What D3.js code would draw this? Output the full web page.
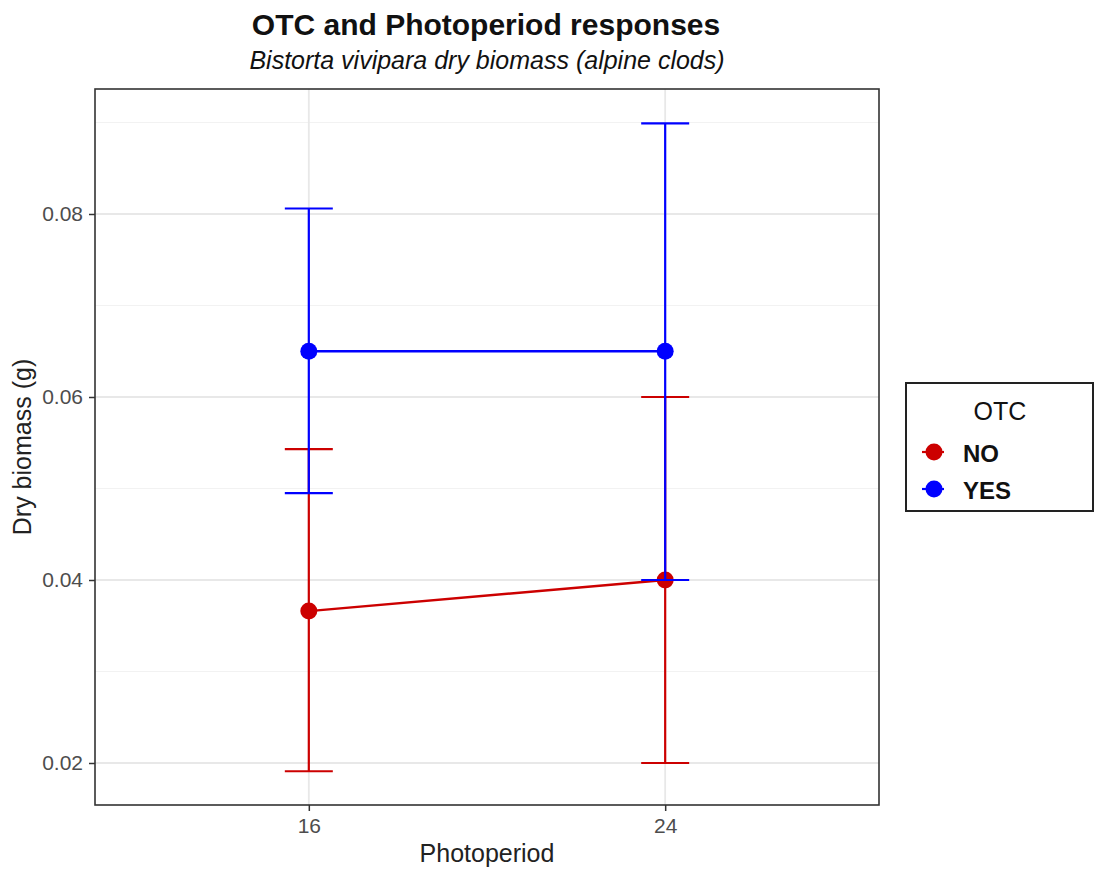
<!doctype html>
<meta charset="utf-8">
<title>OTC and Photoperiod responses</title>
<style>
body { margin: 0; background: #fff; }
svg { font-family: "Liberation Sans", Arial, sans-serif; }
</style>
<script src="https://cdn.jsdelivr.net/npm/d3@7"></script>
<body>
<script>
// photoperiod levels and OTC groups
var photoperiods = ["16", "24"];
var groups = ["NO", "YES"];
var colors = ["#cc0000", "#0000ff"];
// mean, lower, upper per group
var meanNO  = [0.0366, 0.0400];
var lowNO   = [0.0191, 0.0200];
var highNO  = [0.0543, 0.0600];
var meanYES = [0.0650, 0.0650];
var lowYES  = [0.0495, 0.0400];
var highYES = [0.0806, 0.0899];
var yTicks = [0.02, 0.04, 0.06, 0.08];
var yMinor = [0.03, 0.05, 0.07, 0.09];

var series = [
  {name: groups[0], color: colors[0], mean: meanNO, low: lowNO, high: highNO},
  {name: groups[1], color: colors[1], mean: meanYES, low: lowYES, high: highYES}
];

var W = 1094, H = 871;
var pLeft = 95, pRight = 879, pTop = 89, pBottom = 805;

var svg = d3.select("body").append("svg").attr("width", W).attr("height", H);

var x = d3.scalePoint().domain(photoperiods).range([pLeft, pRight]).padding(0.6);
var y = d3.scaleLinear().domain([0.01541, 0.09366]).range([pBottom, pTop]);

// grid
svg.append("g").selectAll("line").data(yMinor).join("line")
  .attr("x1", pLeft).attr("x2", pRight)
  .attr("y1", d => y(d)).attr("y2", d => y(d))
  .attr("stroke", "#f2f2f2").attr("stroke-width", 1.2);
svg.append("g").selectAll("line").data(yTicks).join("line")
  .attr("x1", pLeft).attr("x2", pRight)
  .attr("y1", d => y(d)).attr("y2", d => y(d))
  .attr("stroke", "#e8e8e8").attr("stroke-width", 1.8);
svg.append("g").selectAll("line").data(photoperiods).join("line")
  .attr("x1", d => x(d)).attr("x2", d => x(d))
  .attr("y1", pTop).attr("y2", pBottom)
  .attr("stroke", "#e8e8e8").attr("stroke-width", 1.8);

// axes
var yAxis = svg.append("g").attr("transform", "translate(" + pLeft + ",0)")
  .call(d3.axisLeft(y).tickValues(yTicks).tickFormat(d3.format(".2f")).tickSize(6).tickPadding(6));
var xAxis = svg.append("g").attr("transform", "translate(0," + pBottom + ")")
  .call(d3.axisBottom(x).tickSize(6).tickPadding(7));
[yAxis, xAxis].forEach(function(a) {
  a.attr("font-size", 21).attr("font-family", "Liberation Sans, Arial, sans-serif");
  a.select(".domain").remove();
  a.selectAll(".tick line").attr("stroke", "#333").attr("stroke-width", 1.5);
  a.selectAll(".tick text").attr("fill", "#4d4d4d");
});

// data
var capW = 24;
series.forEach(function(s) {
  var g = svg.append("g");
  var pts = photoperiods.map((p, i) => ({p: p, m: s.mean[i], lo: s.low[i], hi: s.high[i]}));
  g.selectAll("line.bar").data(pts).join("line")
    .attr("x1", d => x(d.p)).attr("x2", d => x(d.p))
    .attr("y1", d => y(d.lo)).attr("y2", d => y(d.hi))
    .attr("stroke", s.color).attr("stroke-width", 2.2);
  g.selectAll("line.capl").data(pts).join("line")
    .attr("x1", d => x(d.p) - capW).attr("x2", d => x(d.p) + capW)
    .attr("y1", d => y(d.lo)).attr("y2", d => y(d.lo))
    .attr("stroke", s.color).attr("stroke-width", 2.2);
  g.selectAll("line.caph").data(pts).join("line")
    .attr("x1", d => x(d.p) - capW).attr("x2", d => x(d.p) + capW)
    .attr("y1", d => y(d.hi)).attr("y2", d => y(d.hi))
    .attr("stroke", s.color).attr("stroke-width", 2.2);
  g.append("path").datum(pts)
    .attr("d", d3.line().x(d => x(d.p)).y(d => y(d.m)))
    .attr("fill", "none").attr("stroke", s.color).attr("stroke-width", 2.4);
  g.selectAll("circle").data(pts).join("circle")
    .attr("cx", d => x(d.p)).attr("cy", d => y(d.m)).attr("r", 8.5)
    .attr("fill", s.color);
});

// panel border
svg.append("rect").attr("x", pLeft).attr("y", pTop)
  .attr("width", pRight - pLeft).attr("height", pBottom - pTop)
  .attr("fill", "none").attr("stroke", "#333").attr("stroke-width", 1.6);

// titles
svg.append("text").attr("x", 486).attr("y", 35).attr("text-anchor", "middle")
  .attr("font-size", 30).attr("font-weight", "bold").attr("fill", "#111")
  .text("OTC and Photoperiod responses");
svg.append("text").attr("x", 487).attr("y", 69).attr("text-anchor", "middle")
  .attr("font-size", 25).attr("font-style", "italic").attr("fill", "#111")
  .text("Bistorta vivipara dry biomass (alpine clods)");
svg.append("text").attr("x", (pLeft + pRight) / 2).attr("y", 862).attr("text-anchor", "middle")
  .attr("font-size", 25).attr("fill", "#222").text("Photoperiod");
svg.append("text").attr("transform", "translate(31," + ((pTop + pBottom) / 2) + ") rotate(-90)")
  .attr("text-anchor", "middle").attr("font-size", 25).attr("fill", "#222")
  .text("Dry biomass (g)");

// legend
var lg = svg.append("g");
lg.append("rect").attr("x", 906).attr("y", 383).attr("width", 187).attr("height", 128)
  .attr("fill", "#fff").attr("stroke", "#222").attr("stroke-width", 2);
lg.append("text").attr("x", 1000).attr("y", 420).attr("text-anchor", "middle")
  .attr("font-size", 25).attr("fill", "#111").text("OTC");
var li = lg.selectAll("g.item").data(series).join("g")
  .attr("transform", (d, i) => "translate(0," + (452 + i * 37) + ")");
li.append("line").attr("x1", 922).attr("x2", 944).attr("y1", 0).attr("y2", 0)
  .attr("stroke", d => d.color).attr("stroke-width", 2.2);
li.append("circle").attr("cx", 934).attr("cy", 0).attr("r", 8.5).attr("fill", d => d.color);
li.append("text").attr("x", 963).attr("y", 10).attr("font-size", 24).attr("font-weight", "bold")
  .attr("fill", "#111").text(d => d.name);
</script>
</body>
